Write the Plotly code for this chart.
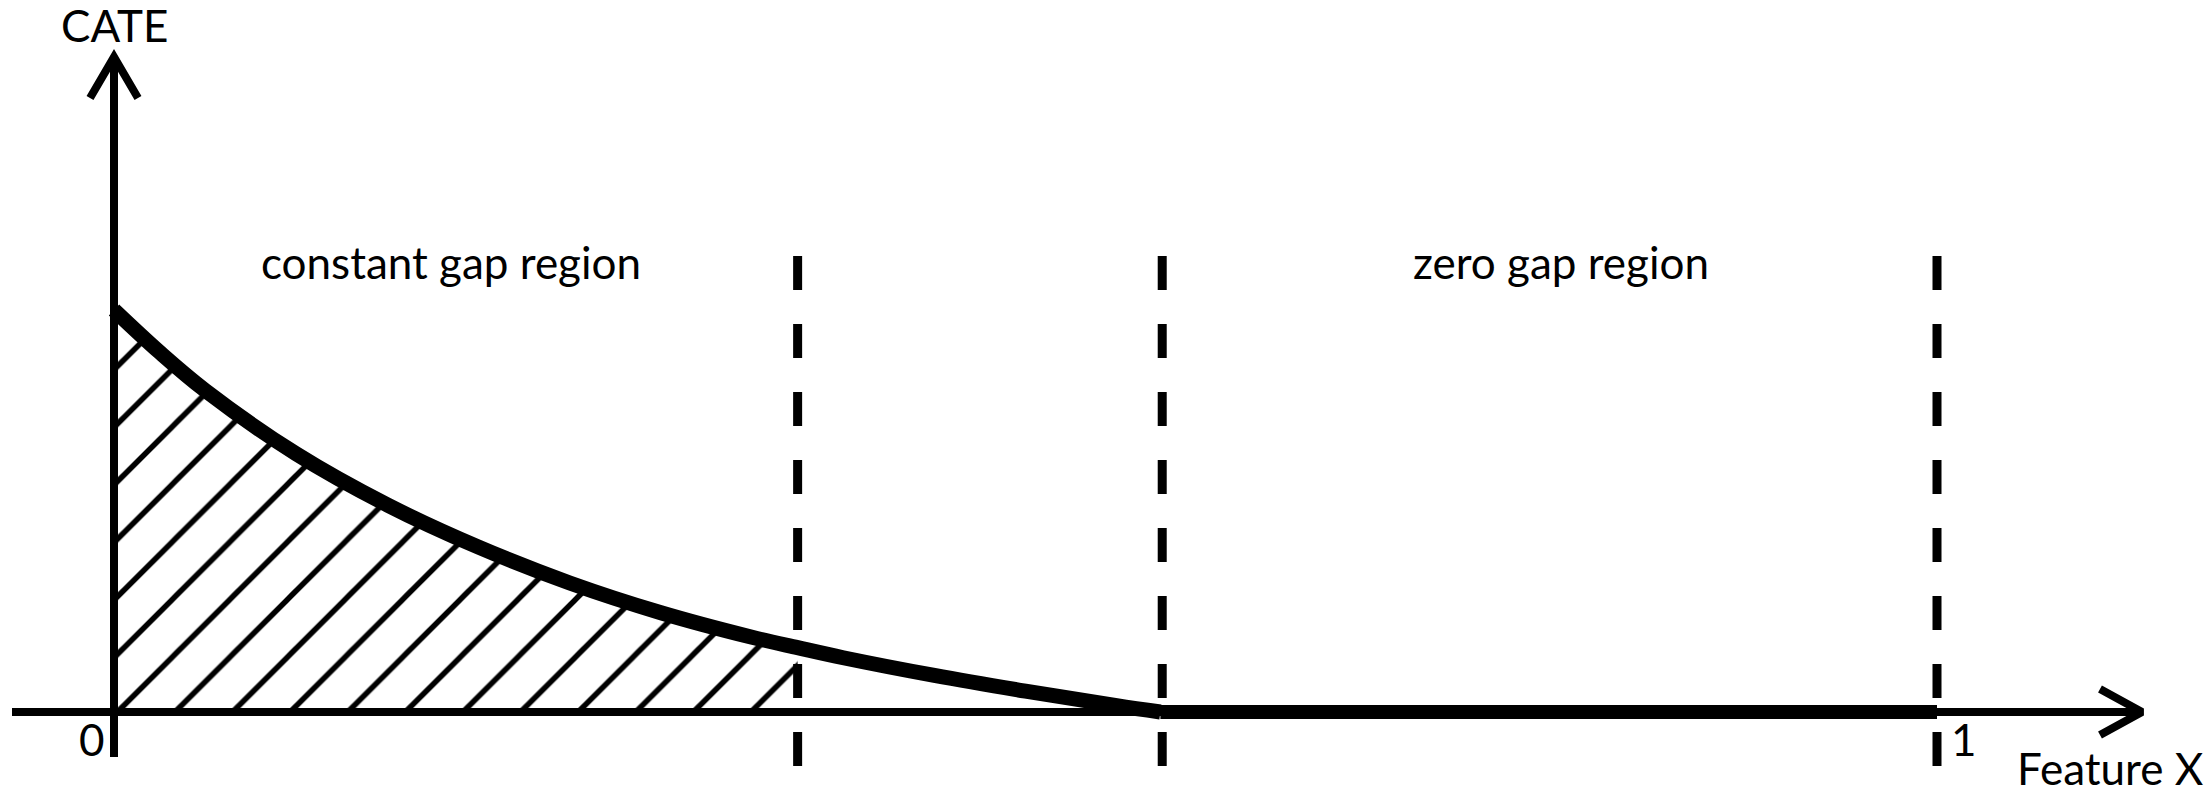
"""Schéma CATE : région à écart constant / région à écart nul."""
import numpy as np
import plotly.graph_objects as go

# Courbe CATE (feature X dans [0, 1], CATE normalisé à 1 en x = 0)
feature_x = [0.0, 0.025, 0.05, 0.10, 0.15, 0.20, 0.25, 0.30, 0.35, 0.375,
             0.40, 0.45, 0.50, 0.55, 0.574]
cate = [1.0, 0.895, 0.800, 0.642, 0.515, 0.410, 0.321, 0.247, 0.186, 0.160,
        0.135, 0.091, 0.052, 0.016, 0.0]
zero_x = [0.574, 1.0]
zero_cate = [0.0, 0.0]

# frontières verticales (pointillés)
boundaries = [0.375, 0.575, 1.0]
region_labels = ["constant gap region", "zero gap region"]
tick_labels = ["0", "1"]
tick_values = [0.0, 1.0]
x_title = "Feature X"
y_title = "CATE"

# ------------------------------------------------------------------
# Géométrie de la page (pixels)
# ------------------------------------------------------------------
W, H = 2210, 795
M_TOP = 23
X0_PX, X1_PX = 114, 1937      # x = 0 et x = 1
Y0_PX, Y_SCALE = 712, 402     # y = 0 et pixels par unité
NOIR = "black"
FONT = "Lato, 'Open Sans', sans-serif"
FONT_SIZE = 44


def dx(px):
    return (px - X0_PX) / (X1_PX - X0_PX)


def dy(py):
    return (Y0_PX - py) / Y_SCALE


fig = go.Figure()

# 1. hachures sous la courbe, jusqu'à la première frontière
fx = np.array(feature_x)
fc = np.array(cate)
keep = fx <= boundaries[0] + 1e-9
hatch_step = 57.6                      # espacement horizontal des hachures (px)
hatch_size = hatch_step / np.sqrt(2)
fig.add_trace(go.Scatter(
    x=fx[keep], y=fc[keep], mode="lines", line=dict(width=0, shape="spline"),
    fill="tozeroy", fillcolor="white",
    fillpattern=dict(shape="/", size=hatch_size, solidity=5.5 / hatch_size,
                     fgcolor=NOIR, fgopacity=1, bgcolor="white"),
    hoverinfo="skip",
))

# 2. frontières en pointillés
for b in boundaries:
    fig.add_trace(go.Scatter(
        x=[b, b], y=[dy(256), dy(768)], mode="lines",
        line=dict(color=NOIR, width=9, dash="34px,34px"), hoverinfo="skip",
    ))

# 3. axes avec flèches
fig.add_trace(go.Scatter(x=[dx(12), dx(2142)], y=[0, 0], mode="lines",
                         line=dict(color=NOIR, width=8), hoverinfo="skip"))
fig.add_trace(go.Scatter(x=[dx(2100), dx(2142), dx(2100)], y=[dy(689), 0, dy(735)], mode="lines",
                         line=dict(color=NOIR, width=8), hoverinfo="skip"))
fig.add_trace(go.Scatter(x=[0, 0], y=[dy(757), dy(57)], mode="lines",
                         line=dict(color=NOIR, width=8), hoverinfo="skip"))
fig.add_trace(go.Scatter(x=[dx(90), 0, dx(138)], y=[dy(98), dy(57), dy(98)], mode="lines",
                         line=dict(color=NOIR, width=8), hoverinfo="skip"))

# 4. courbe CATE
fig.add_trace(go.Scatter(x=feature_x, y=cate, mode="lines",
                         line=dict(color=NOIR, width=15, shape="spline"), hoverinfo="skip"))
fig.add_trace(go.Scatter(x=zero_x, y=zero_cate, mode="lines",
                         line=dict(color=NOIR, width=14), hoverinfo="skip"))

# 5. textes
font = dict(family=FONT, size=FONT_SIZE, color=NOIR)
fig.add_annotation(x=dx(451), y=dy(262), text=region_labels[0], showarrow=False, font=font)
fig.add_annotation(x=dx(1561), y=dy(262), text=region_labels[1], showarrow=False, font=font)
fig.add_annotation(x=0, y=dy(25), text=y_title, showarrow=False, font=font)
fig.add_annotation(x=dx(2110), y=dy(768), text=x_title, showarrow=False, font=font)
for v, t, px in zip(tick_values, tick_labels, [92, 1964]):
    fig.add_annotation(x=dx(px), y=dy(739), text=t, showarrow=False, font=font)

fig.update_layout(
    width=W, height=H,
    margin=dict(l=0, r=0, t=M_TOP, b=0, pad=0),
    paper_bgcolor="white", plot_bgcolor="white",
    showlegend=False,
    xaxis=dict(range=[dx(0), dx(W)], visible=False, fixedrange=True),
    yaxis=dict(range=[dy(H), dy(M_TOP)], visible=False, fixedrange=True),
)

fig.write_html(
    "out.html",
    config={"displayModeBar": False, "staticPlot": True},
    post_script="document.body.style.margin='0';document.body.style.overflow='hidden';",
)
